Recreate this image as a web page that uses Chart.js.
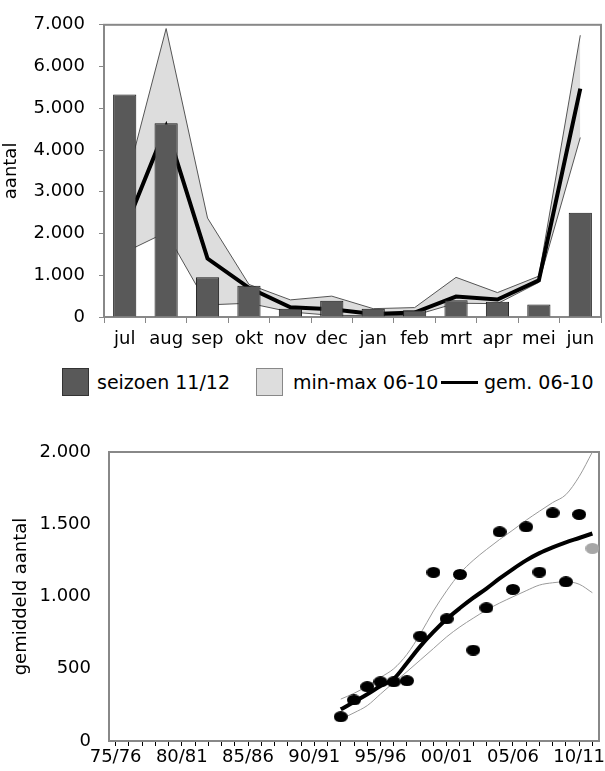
<!DOCTYPE html>
<html>
<head>
<meta charset="utf-8">
<script src="https://cdn.jsdelivr.net/npm/chart.js@4.4.0/dist/chart.umd.min.js"></script>
<style>
    body { margin: 0; background: #fff; width: 605px; height: 771px; position: relative; overflow: hidden; font-family: 'DejaVu Sans', sans-serif; }
    #top-wrap { position: absolute; left: 0; top: 0; width: 605px; height: 356px; }
    #bottom-wrap { position: absolute; left: 0; top: 405px; width: 605px; height: 366px; }
    .legend { position: absolute; left: 0; top: 368px; width: 605px; height: 30px; font-size: 19px; color: #000; }
    .legend .box { position: absolute; top: 0; width: 27px; height: 28px; box-sizing: border-box; }
    .legend .txt { position: absolute; top: 3px; line-height: 22px; white-space: nowrap; }
    .legend .line { position: absolute; top: 13px; width: 37px; height: 3px; background: #000; }
</style>
</head>
<body>
<div id="top-wrap"><canvas id="season-chart" width="605" height="356"></canvas></div>
<div class="legend">
    <div class="box" style="left:62px; background:#595959; border:1px solid #333;"></div>
    <div class="txt" style="left:97px;">seizoen 11/12</div>
    <div class="box" style="left:256px; background:#dddddd; border:1px solid #888;"></div>
    <div class="txt" style="left:293px;">min-max 06-10</div>
    <div class="line" style="left:441px;"></div>
    <div class="txt" style="left:484px;">gem. 06-10</div>
</div>
<div id="bottom-wrap"><canvas id="trend-chart" width="605" height="366"></canvas></div>

<script>
// --- DATA: monthly counts ---
const months = ['jul', 'aug', 'sep', 'okt', 'nov', 'dec', 'jan', 'feb', 'mrt', 'apr', 'mei', 'jun'];
const season1112 = [5330, 4640, 950, 750, 195, 390, 195, 160, 400, 365, 300, 2500];
const max0610 = [3100, 6910, 2370, 780, 410, 500, 200, 225, 950, 585, 980, 6750];
const min0610 = [1550, 2030, 290, 330, 120, 40, 30, 40, 330, 320, 830, 4300];
const avg0610 = [2100, 4560, 1400, 700, 235, 185, 70, 105, 490, 420, 880, 5470];

// --- DATA: seasonal averages ---
const seasons = ['75/76', '76/77', '77/78', '78/79', '79/80', '80/81', '81/82', '82/83', '83/84', '84/85',
    '85/86', '86/87', '87/88', '88/89', '89/90', '90/91', '91/92', '92/93', '93/94', '94/95',
    '95/96', '96/97', '97/98', '98/99', '99/00', '00/01', '01/02', '02/03', '03/04', '04/05',
    '05/06', '06/07', '07/08', '08/09', '09/10', '10/11', '11/12'];
const seasonAvg = [null, null, null, null, null, null, null, null, null, null,
    null, null, null, null, null, null, null, 168, 284, 376,
    410, 410, 417, 726, 1167, 846, 1153, 629, 922, 1448,
    1049, 1482, 1169, 1579, 1102, 1568, null];
const latestAvg = [null, null, null, null, null, null, null, null, null, null,
    null, null, null, null, null, null, null, null, null, null,
    null, null, null, null, null, null, null, null, null, null,
    null, null, null, null, null, null, 1333];
const trend = [null, null, null, null, null, null, null, null, null, null,
    null, null, null, null, null, null, null, 219, 270, 323,
    380, 430, 540, 655, 755, 844, 920, 990, 1055, 1125,
    1190, 1250, 1300, 1340, 1375, 1405, 1436];
const trendUpper = [null, null, null, null, null, null, null, null, null, null,
    null, null, null, null, null, null, null, 290, 330, 380,
    440, 500, 600, 740, 900, 1040, 1160, 1250, 1325, 1395,
    1460, 1528, 1590, 1650, 1705, 1830, 2000];
const trendLower = [null, null, null, null, null, null, null, null, null, null,
    null, null, null, null, null, null, null, 150, 195, 245,
    325, 405, 480, 560, 640, 721, 790, 850, 906, 955,
    998, 1040, 1079, 1095, 1102, 1085, 1026];

Chart.defaults.font.family = "'DejaVu Sans', sans-serif";
Chart.defaults.font.size = 18;
Chart.defaults.color = '#000';
Chart.defaults.animation = false;

const axisGray = '#888';
const dotted = n => String(n).replace(/\B(?=(\d{3})+(?!\d))/g, '.');

// grey box round the plot area
const framePlugin = {
    id: 'frame',
    beforeDatasetsDraw(chart) {
        const { ctx, chartArea: a } = chart;
        ctx.save();
        ctx.strokeStyle = axisGray;
        ctx.lineWidth = 2;
        ctx.strokeRect(a.left, a.top, a.right - a.left, a.bottom - a.top);
        ctx.restore();
    }
};

// ellipse markers like the original
const makeDot = (color) => {
    const c = document.createElement('canvas');
    c.width = 14;
    c.height = 11;
    const g = c.getContext('2d');
    g.fillStyle = color;
    g.beginPath();
    g.ellipse(7, 5.5, 7, 5.5, 0, 0, 2 * Math.PI);
    g.fill();
    return c;
};

// --- TOP CHART ---
new Chart(document.getElementById('season-chart').getContext('2d'), {
    type: 'bar',
    data: {
        labels: months,
        datasets: [
            {
                type: 'bar',
                label: 'seizoen 11/12',
                data: season1112,
                backgroundColor: '#595959',
                borderColor: '#1a1a1a',
                borderWidth: 1,
                barPercentage: 0.56,
                categoryPercentage: 1,
                order: 1
            },
            {
                type: 'line',
                label: 'max 06-10',
                data: max0610,
                borderColor: '#555',
                borderWidth: 1,
                backgroundColor: '#dddddd',
                fill: '+1',
                pointRadius: 0,
                tension: 0,
                order: 4
            },
            {
                type: 'line',
                label: 'min 06-10',
                data: min0610,
                borderColor: '#555',
                borderWidth: 1,
                fill: false,
                pointRadius: 0,
                tension: 0,
                order: 3
            },
            {
                type: 'line',
                label: 'gem. 06-10',
                data: avg0610,
                borderColor: '#000',
                borderWidth: 4,
                fill: false,
                pointRadius: 0,
                tension: 0,
                order: 2
            }
        ]
    },
    options: {
        responsive: false,
        layout: { padding: { top: 15, right: 4, bottom: 0, left: 0 } },
        plugins: { legend: { display: false }, tooltip: { enabled: false } },
        scales: {
            x: {
                offset: true,
                border: { color: axisGray, width: 2 },
                grid: { offset: true, drawOnChartArea: false, drawTicks: true, tickLength: 6, color: axisGray },
                ticks: { padding: 6, maxRotation: 0, autoSkip: false },
                afterFit: s => { s.height = 39; }
            },
            y: {
                min: 0,
                max: 7000,
                border: { color: axisGray, width: 2 },
                grid: { drawOnChartArea: false, drawTicks: true, tickLength: 5, color: axisGray },
                ticks: { stepSize: 1000, padding: 14, callback: v => dotted(v) },
                title: { display: true, text: 'aantal', padding: { top: 1, bottom: 0 } },
                afterFit: s => { s.width = 104; }
            }
        }
    },
    plugins: [framePlugin]
});

// --- BOTTOM CHART ---
new Chart(document.getElementById('trend-chart').getContext('2d'), {
    type: 'line',
    data: {
        labels: seasons,
        datasets: [
            {
                label: 'boven',
                data: trendUpper,
                borderColor: '#9a9a9a',
                borderWidth: 1,
                pointRadius: 0,
                cubicInterpolationMode: 'monotone',
                order: 4
            },
            {
                label: 'onder',
                data: trendLower,
                borderColor: '#9a9a9a',
                borderWidth: 1,
                pointRadius: 0,
                cubicInterpolationMode: 'monotone',
                order: 3
            },
            {
                label: 'trend',
                data: trend,
                borderColor: '#000',
                borderWidth: 4,
                pointRadius: 0,
                cubicInterpolationMode: 'monotone',
                order: 2
            },
            {
                label: 'gemiddeld',
                data: seasonAvg,
                showLine: false,
                pointStyle: makeDot('#000'),
                order: 1
            },
            {
                label: '11/12',
                data: latestAvg,
                showLine: false,
                pointStyle: makeDot('#a6a6a6'),
                order: 0
            }
        ]
    },
    options: {
        responsive: false,
        layout: { padding: { top: 47, right: 6, bottom: 0, left: 0 } },
        plugins: { legend: { display: false }, tooltip: { enabled: false } },
        scales: {
            x: {
                offset: true,
                border: { color: axisGray, width: 2 },
                grid: { offset: false, drawOnChartArea: false, drawTicks: true, tickLength: 5, color: '#000' },
                ticks: {
                    padding: 1,
                    maxRotation: 0,
                    autoSkip: false,
                    callback: (v, i) => (i % 5 === 0 ? seasons[i] : '')
                },
                afterFit: s => { s.height = 30; }
            },
            y: {
                min: 0,
                max: 2000,
                border: { color: axisGray, width: 2 },
                grid: { drawOnChartArea: false, drawTicks: false },
                ticks: { stepSize: 500, padding: 18, callback: v => dotted(v) },
                title: { display: true, text: 'gemiddeld aantal', padding: { top: 11, bottom: 0 } },
                afterFit: s => { s.width = 109; }
            }
        }
    },
    plugins: [framePlugin]
});
</script>
</body>
</html>
